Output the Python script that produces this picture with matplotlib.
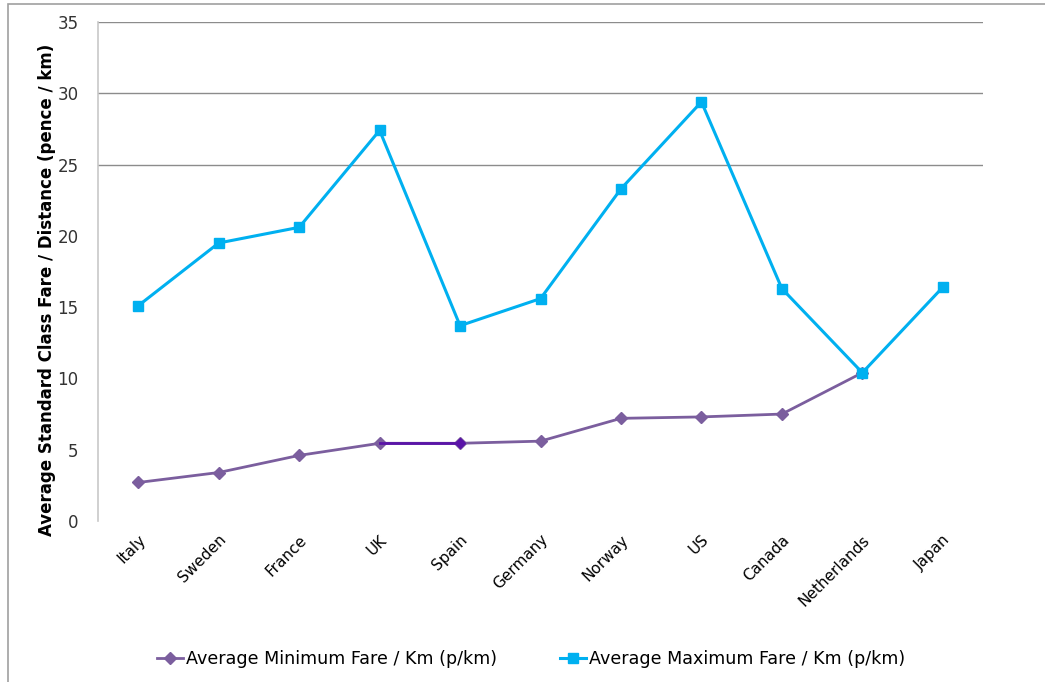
import matplotlib.pyplot as plt
from matplotlib.patches import Rectangle

# fare data (pence per km)
countries = ["Italy", "Sweden", "France", "UK", "Spain", "Germany",
             "Norway", "US", "Canada", "Netherlands", "Japan"]
min_fare = [2.7, 3.4, 4.6, 5.45, 5.45, 5.6, 7.2, 7.3, 7.5, 10.4]
max_fare = [15.1, 19.5, 20.6, 27.4, 13.7, 15.6, 23.3, 29.4, 16.3, 10.4, 16.4]
grid_levels = [25, 30, 35]

purple = "#7B5E9E"
purple_dark = "#5A14A8"
blue = "#00B0F0"

fig = plt.figure(figsize=(10.45, 6.82), dpi=100)
ax = fig.add_axes([0.0938, 0.2361, 0.8469, 0.7316])

x = list(range(len(countries)))
xm = x[:len(min_fare)]

ax.plot(xm, min_fare, color=purple, lw=2.0, marker="D", ms=6.5,
        label="Average Minimum Fare / Km (p/km)", zorder=3)
# UK-Spain segment is drawn in a darker shade
ax.plot(xm[3:5], min_fare[3:5], color=purple_dark, lw=2.0, zorder=3.5)
ax.plot(xm[4:5], min_fare[4:5], color=purple_dark, marker="D", ms=5, lw=0, zorder=3.6)
ax.plot(x, max_fare, color=blue, lw=2.2, marker="s", ms=7.5,
        label="Average Maximum Fare / Km (p/km)", zorder=4)

for g in grid_levels:
    ax.axhline(g, color="#8C8C8C", lw=1.0, zorder=1)

ax.set_xlim(-0.5, len(countries) - 0.5)
ax.set_ylim(0, 35)
ax.set_yticks(range(0, 36, 5))
ax.set_xticks(x)
ax.set_xticklabels(countries, rotation=45, ha="right", rotation_mode="anchor",
                   fontsize=11)
ax.tick_params(axis="y", labelsize=12, labelcolor="#333333", length=0, pad=14)
ax.tick_params(axis="x", length=0, pad=8)
for s in ["top", "right", "bottom"]:
    ax.spines[s].set_visible(False)
ax.spines["left"].set_color("#C8C8C8")
ax.spines["left"].set_linewidth(1.2)

fig.text(0.045, 0.575, "Average Standard Class Fare / Distance (pence / km)",
         rotation=90, ha="center", va="center", fontsize=12, fontweight="bold")

leg = fig.legend(loc="center", bbox_to_anchor=(0.508, 0.033), ncol=2, frameon=False,
                 handlelength=1.5, handletextpad=0.15, columnspacing=3.6,
                 prop={"family": ["Liberation Sans Narrow", "DejaVu Sans"], "size": 12.6})

# outer chart frame
fig.add_artist(Rectangle((8 / 1045, -0.1), 1.2, 1 - 4 / 682 + 0.1,
                         transform=fig.transFigure, fill=False,
                         edgecolor="#A0A0A0", lw=1.2))

fig.savefig("out.png", dpi=100)
